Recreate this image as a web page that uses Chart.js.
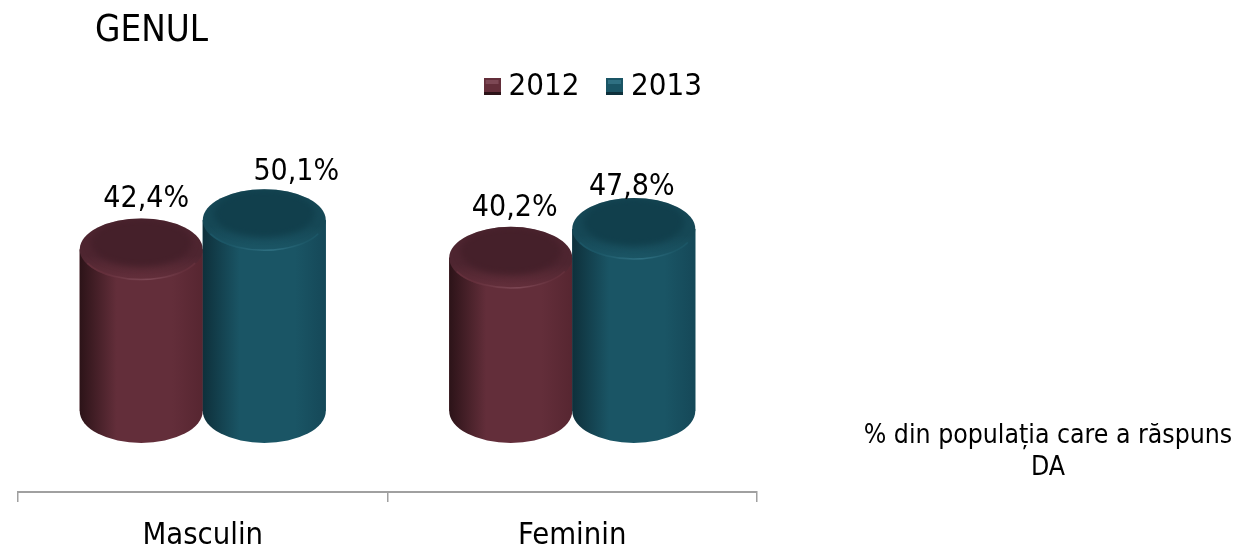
<!DOCTYPE html>
<html>
<head>
<meta charset="utf-8">
<title>Genul</title>
<script src="https://cdn.jsdelivr.net/npm/chart.js@4/dist/chart.umd.js"></script>
<style>
  html, body { margin: 0; padding: 0; background: #fff; }
  #wrap { width: 1243px; height: 547px; position: relative; }
</style>
</head>
<body>
<div id="wrap"><canvas id="genul-chart" width="1243" height="547"></canvas></div>
<script>
const categories = ['Masculin', 'Feminin'];
const series_names = ['2012', '2013'];
const values_2012 = [42.4, 40.2];
const values_2013 = [50.1, 47.8];
const chart_title = 'GENUL';
const note_lines = ['% din populația care a răspuns', 'DA'];

const FONT = '"DejaVu Sans Condensed", "DejaVu Sans", sans-serif';

// colours per series: edge shadow, lit middle, right side, top face, bevel, top rim, highlight
const maroon = { dark: '#2c1318', mid: '#632e3a', side: '#572631', top: '#45202a', face: '#4e2530', rim: '#642f3b', shine: '#7d4855' };
const teal = { dark: '#0e303b', mid: '#1a5565', side: '#154858', top: '#113f4c', face: '#164856', rim: '#1b5666', shine: '#2f7082' };
const palette = [maroon, teal];

// the office-style labels sit a bit off the bar centres, [dx, dy] from the top of the bar
const label_offsets = [
  [[5, -50], [32, -48]],
  [[4, -50], [-2, -42]]
];

const CYL_RY = 31;

function bevelSquare(c) {
  const size = 17;
  const cv = document.createElement('canvas');
  cv.width = size;
  cv.height = size;
  const g = cv.getContext('2d');
  g.fillStyle = c.mid;
  g.fillRect(0, 0, size, size);
  g.fillStyle = c.dark;
  g.fillRect(0, 14, size, 3);
  g.fillStyle = c.shine;
  g.fillRect(2, 2, 13, 4);
  return cv;
}

function formatPct(v) {
  return v.toFixed(1).replace('.', ',') + '%';
}

// paints each bar as a cylinder, geometry comes from the bar elements
const cylinderPlugin = {
  id: 'cylinders',
  afterDatasetsDraw(chart) {
    const ctx = chart.ctx;
    chart.data.datasets.forEach((ds, i) => {
      const c = palette[i];
      chart.getDatasetMeta(i).data.forEach((bar) => {
        const { x, y, base, width } = bar.getProps(['x', 'y', 'base', 'width'], true);
        const rx = width / 2;
        const left = x - rx;
        const right = x + rx;

        const side = ctx.createLinearGradient(left, 0, right, 0);
        side.addColorStop(0, c.dark);
        side.addColorStop(0.3, c.mid);
        side.addColorStop(0.75, c.mid);
        side.addColorStop(1, c.side);

        ctx.save();
        ctx.fillStyle = side;
        ctx.beginPath();
        ctx.moveTo(left, y);
        ctx.lineTo(left, base);
        ctx.ellipse(x, base, rx, CYL_RY + 1, 0, Math.PI, 0, true);
        ctx.lineTo(right, y);
        ctx.closePath();
        ctx.fill();

        // top face: bevel gets lighter towards the front edge
        const bevel = ctx.createLinearGradient(0, y - CYL_RY, 0, y + CYL_RY);
        bevel.addColorStop(0, c.face);
        bevel.addColorStop(0.6, c.face);
        bevel.addColorStop(1, c.rim);
        ctx.fillStyle = bevel;
        ctx.beginPath();
        ctx.ellipse(x, y, rx, CYL_RY, 0, 0, Math.PI * 2);
        ctx.fill();

        // darker inner part, soft edge, pushed to the back
        ctx.save();
        ctx.clip();
        ctx.filter = 'blur(3px)';
        ctx.fillStyle = c.top;
        ctx.beginPath();
        ctx.ellipse(x, y - 7, rx - 11, CYL_RY - 7, 0, 0, Math.PI * 2);
        ctx.fill();
        ctx.restore();

        // bright line along the front edge of the top
        const shine = ctx.createLinearGradient(left, 0, right, 0);
        shine.addColorStop(0.2, c.rim);
        shine.addColorStop(0.55, c.shine);
        shine.addColorStop(0.85, c.rim);
        ctx.strokeStyle = shine;
        ctx.lineWidth = 1.5;
        ctx.beginPath();
        ctx.ellipse(x, y, rx - 1, CYL_RY - 1, 0, Math.PI * 0.15, Math.PI * 0.85);
        ctx.stroke();
        ctx.restore();
      });
    });
  },
  afterDraw(chart) {
    const ctx = chart.ctx;
    ctx.save();
    ctx.fillStyle = '#000';
    ctx.textAlign = 'center';
    ctx.textBaseline = 'middle';
    // value labels
    ctx.font = '30px ' + FONT;
    chart.data.datasets.forEach((ds, i) => {
      chart.getDatasetMeta(i).data.forEach((bar, j) => {
        const off = label_offsets[j][i];
        ctx.fillText(formatPct(ds.data[j]), bar.x + off[0], bar.y + off[1]);
      });
    });
    // note at the right
    ctx.font = '26.4px ' + FONT;
    ctx.fillText(note_lines[0], 1048, 436);
    ctx.fillText(note_lines[1], 1048, 468);
    ctx.restore();
  }
};

// title and legend do not follow the plot area in the original
const placementPlugin = {
  id: 'placement',
  afterLayout(chart) {
    chart.titleBlock.left = 95;
    chart.legend.left = 0;
    chart.legend.right = 1193;
    chart.legend.top = 37;
  }
};

new Chart(document.getElementById('genul-chart'), {
  type: 'bar',
  data: {
    labels: categories,
    datasets: [
      { label: series_names[0], data: values_2012, backgroundColor: maroon.mid, pointStyle: bevelSquare(maroon) },
      { label: series_names[1], data: values_2013, backgroundColor: teal.mid, pointStyle: bevelSquare(teal) }
    ]
  },
  options: {
    responsive: false,
    animation: false,
    layout: { padding: { left: 18, right: 486, top: 10, bottom: 0 } },
    datasets: { bar: { barPercentage: 1, categoryPercentage: 0.666 } },
    plugins: {
      tooltip: { enabled: false },
      title: {
        display: true,
        text: chart_title,
        align: 'start',
        color: '#000',
        font: { family: FONT, size: 36.5, weight: 'normal' },
        padding: { top: 0, bottom: 0 }
      },
      legend: {
        display: true,
        position: 'top',
        labels: {
          color: '#000',
          font: { family: FONT, size: 31 },
          usePointStyle: true,
          pointStyleWidth: 2,
          padding: 34
        }
      }
    },
    scales: {
      x: {
        afterFit(scale) { scale.height = 55; },
        grid: { drawOnChartArea: false, color: '#a0a0a0', tickLength: 10, lineWidth: 1.5 },
        border: { color: '#a0a0a0', width: 2 },
        ticks: { color: '#000', font: { family: FONT, size: 30.7 }, padding: 16, maxRotation: 0 }
      },
      y: { display: false, min: -21.3, max: 74.1 }
    }
  },
  plugins: [cylinderPlugin, placementPlugin]
});
</script>
</body>
</html>
